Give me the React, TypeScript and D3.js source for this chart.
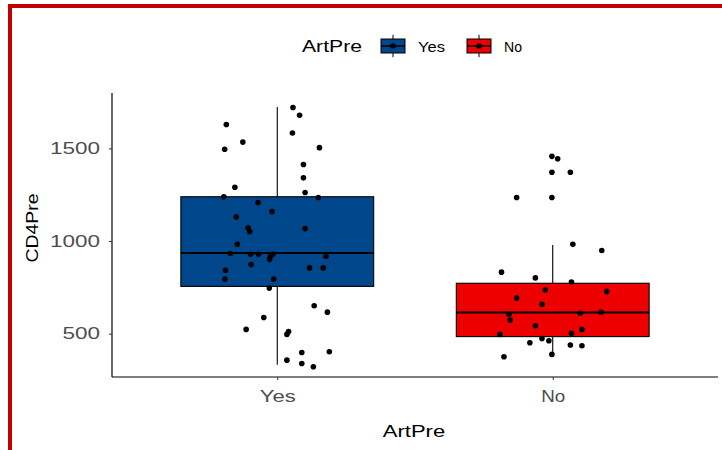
import React, { useEffect, useRef } from 'react';
import * as d3 from 'd3';

// Groups and box summaries
const categories = ['Yes', 'No'];
const fillColors = ['#00468B', '#ED0000'];
const boxQ1 = [755, 484];
const boxMedian = [935, 614];
const boxQ3 = [1239, 772];
const whiskerLow = [332, 386];
const whiskerHigh = [1723, 978];

// Jittered CD4Pre observations: horizontal jitter in category units, value
const yesJitter = [0.057, 0.081, -0.185, 0.055, -0.125, 0.153, -0.191, 0.095, 0.095, -0.154,
  -0.194, 0.101, 0.149, -0.070, -0.019, -0.149, -0.106, -0.100, 0.101, -0.145,
  -0.170, -0.097, -0.068, -0.025, -0.016, 0.177, -0.095, -0.028, -0.188, 0.117,
  0.167, -0.190, -0.013, -0.029, 0.134, 0.182, -0.049, -0.113, 0.041, 0.035,
  0.089, 0.189, 0.035, 0.089, 0.131];
const yesValues = [1721, 1679, 1629, 1583, 1534, 1504, 1495, 1413, 1341, 1290,
  1239, 1262, 1235, 1208, 1159, 1130, 1072, 1051, 1067, 982,
  933, 928, 928, 918, 928, 918, 873, 901, 842, 855,
  855, 795, 795, 746, 651, 616, 587, 523, 511, 496,
  398, 402, 357, 339, 321];
const noJitter = [-0.003, 0.018, -0.003, 0.064, -0.131, -0.003, 0.073, 0.178, -0.186, -0.063,
  0.068, -0.027, 0.196, -0.131, -0.039, -0.159, -0.155, 0.100, 0.176, -0.063,
  -0.192, 0.068, 0.106, -0.039, -0.014, -0.083, 0.064, 0.106, -0.003, -0.177];
const noValues = [1457, 1444, 1371, 1371, 1235, 1235, 982, 949, 832, 801,
  779, 737, 728, 692, 659, 605, 574, 610, 616, 543,
  496, 502, 523, 474, 462, 451, 439, 435, 388, 375];

const yTicks = [500, 1000, 1500];

const font = '"Liberation Sans", Arial, sans-serif';

// the reference text is drawn wide; stretch glyphs to roughly this many px per char
const widen = (sel, perChar) => {
  sel.each(function () {
    const t = d3.select(this);
    const n = (t.text() || '').length;
    t.attr('textLength', n * perChar).attr('lengthAdjust', 'spacingAndGlyphs');
  });
};

const App = () => {
  const svgRef = useRef(null);

  const width = 722;
  const height = 450;
  const panel = { left: 112, right: 718, top: 93, bottom: 377 };

  useEffect(() => {
    const svg = d3.select(svgRef.current);
    svg.selectAll('*').remove();

    const x = d3.scaleLinear().domain([0.4, 2.6]).range([panel.left, panel.right]);
    const y = d3.scaleLinear().domain([266, 1799]).range([panel.bottom, panel.top]);
    const boxW = 0.7;

    // outer red frame (top + left edges)
    svg.append('path')
      .attr('d', `M10,450 L10,6 L722,6`)
      .attr('fill', 'none')
      .attr('stroke', '#C00000')
      .attr('stroke-width', 4);

    const g = svg.append('g');

    // boxplots
    categories.forEach((cat, i) => {
      const cx = x(i + 1);
      g.append('line')
        .attr('x1', cx).attr('x2', cx)
        .attr('y1', y(whiskerHigh[i])).attr('y2', y(whiskerLow[i]))
        .attr('stroke', '#000').attr('stroke-width', 1.1);
      g.append('rect')
        .attr('x', x(i + 1 - boxW / 2))
        .attr('width', x(i + 1 + boxW / 2) - x(i + 1 - boxW / 2))
        .attr('y', y(boxQ3[i]))
        .attr('height', y(boxQ1[i]) - y(boxQ3[i]))
        .attr('fill', fillColors[i])
        .attr('stroke', '#000').attr('stroke-width', 1.1);
      g.append('line')
        .attr('x1', x(i + 1 - boxW / 2)).attr('x2', x(i + 1 + boxW / 2))
        .attr('y1', y(boxMedian[i])).attr('y2', y(boxMedian[i]))
        .attr('stroke', '#000').attr('stroke-width', 2);
    });

    // jittered points
    const pts = [
      ...yesValues.map((v, k) => ({ pos: 1 + yesJitter[k], v })),
      ...noValues.map((v, k) => ({ pos: 2 + noJitter[k], v })),
    ];
    g.selectAll('.pt')
      .data(pts)
      .enter()
      .append('circle')
      .attr('class', 'pt')
      .attr('cx', d => x(d.pos))
      .attr('cy', d => y(d.v))
      .attr('r', 2.8)
      .attr('fill', '#000');

    // axes
    const yAxis = g.append('g')
      .attr('transform', `translate(${panel.left},0)`)
      .call(d3.axisLeft(y).tickValues(yTicks).tickFormat(d3.format('d')).tickSize(3).tickPadding(9));
    yAxis.select('.domain').attr('stroke', '#000').attr('stroke-width', 1.2)
      .attr('d', `M0,${panel.top}V${panel.bottom}`);
    yAxis.selectAll('.tick line').attr('stroke', '#333');
    yAxis.selectAll('.tick text')
      .attr('fill', '#4d4d4d')
      .style('font-family', font)
      .style('font-size', '16px')
      .call(widen, 12.5);

    const xAxis = g.append('g')
      .attr('transform', `translate(0,${panel.bottom})`)
      .call(d3.axisBottom(x).tickValues([1, 2]).tickFormat((d, i) => categories[i]).tickSize(3).tickPadding(10));
    xAxis.select('.domain').attr('stroke', '#000').attr('stroke-width', 1.2)
      .attr('d', `M${panel.left},0H${panel.right}`);
    xAxis.selectAll('.tick line').attr('stroke', '#333');
    xAxis.selectAll('.tick text')
      .attr('fill', '#4d4d4d')
      .style('font-family', font)
      .style('font-size', '17px')
      .call(widen, 12);

    // axis titles
    svg.append('text')
      .attr('x', 414)
      .attr('y', 437)
      .attr('text-anchor', 'middle')
      .style('font-family', font)
      .style('font-size', '17px')
      .text('ArtPre')
      .call(widen, 10.4);

    svg.append('text')
      .attr('transform', `translate(38,228) rotate(-90)`)
      .attr('text-anchor', 'middle')
      .style('font-family', font)
      .style('font-size', '16px')
      .text('CD4Pre')
      .call(widen, 11.5);

    // legend
    const legend = svg.append('g').attr('transform', 'translate(302,46)');
    legend.append('text')
      .attr('x', 0).attr('y', 6)
      .style('font-family', font)
      .style('font-size', '16px')
      .text('ArtPre')
      .call(widen, 10);

    const keyX = [76, 162];
    categories.forEach((cat, i) => {
      const kg = legend.append('g').attr('transform', `translate(${keyX[i]},0)`);
      const kw = 30, kh = 28;
      kg.append('line')
        .attr('x1', kw / 2).attr('x2', kw / 2)
        .attr('y1', -kh * 0.4).attr('y2', kh * 0.4)
        .attr('stroke', '#000').attr('stroke-width', 1);
      kg.append('rect')
        .attr('x', kw * 0.1).attr('y', -kh * 0.25)
        .attr('width', kw * 0.8).attr('height', kh * 0.5)
        .attr('fill', fillColors[i])
        .attr('stroke', '#000').attr('stroke-width', 1);
      kg.append('line')
        .attr('x1', kw * 0.1).attr('x2', kw * 0.9)
        .attr('y1', 0).attr('y2', 0)
        .attr('stroke', '#000').attr('stroke-width', 1.5);
      kg.append('circle')
        .attr('cx', kw / 2).attr('cy', 0).attr('r', 2.8).attr('fill', '#000');
      kg.append('text')
        .attr('x', kw + 10).attr('y', 6)
        .style('font-family', font)
        .style('font-size', '15px')
        .text(cat)
        .call(widen, 9);
    });
  }, []);

  return (
    <div style={{ position: 'fixed', left: 0, top: 0, width: 722, height: 450, background: '#fff' }}>
      <svg ref={svgRef} width={width} height={height}></svg>
    </div>
  );
};

export default App;
